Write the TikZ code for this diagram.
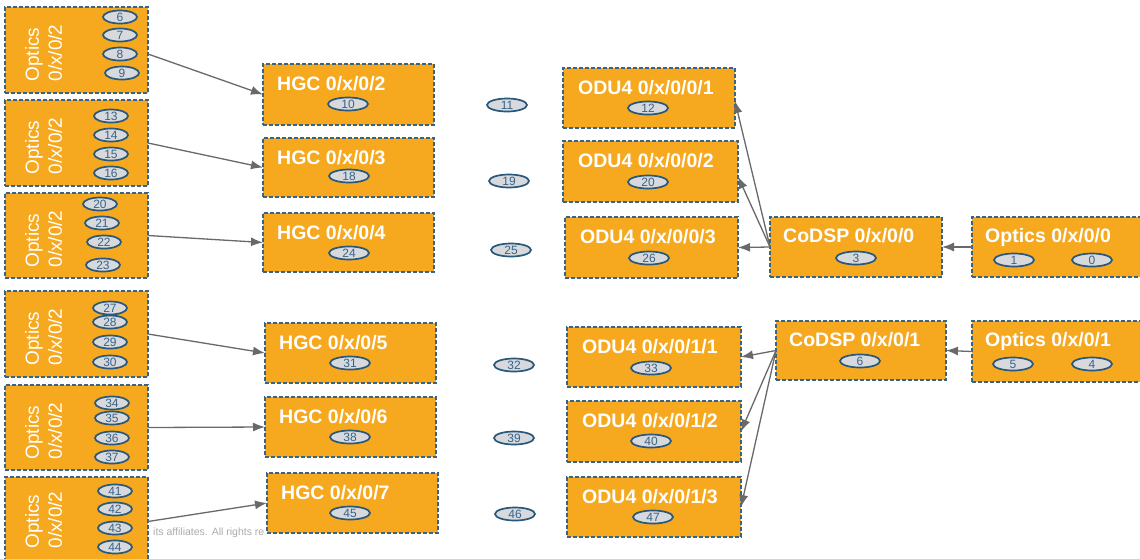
\documentclass[tikz,border=0pt]{standalone}
\usepackage{fontspec}
\setmainfont{Liberation Sans}
\usetikzlibrary{shapes.geometric,arrows.meta}

\definecolor{boxfill}{RGB}{246,168,30}
\definecolor{boxline}{RGB}{55,100,135}
\definecolor{portfill}{RGB}{215,217,220}
\definecolor{portline}{RGB}{40,88,124}
\definecolor{porttext}{RGB}{55,100,138}
\definecolor{linkgray}{RGB}{105,105,105}

\tikzset{
  blk/.style={rectangle, draw=boxline, fill=boxfill, line width=1.2pt,
    dash pattern=on 4pt off 2pt, inner sep=0pt, outer sep=0pt},
  ttl/.style={text=white, inner sep=0pt, anchor=base west,
    font=\fontsize{19.5}{23}\selectfont\bfseries},
  vlabel/.style={text=white, inner sep=0pt, rotate=90, align=left,
    font=\fontsize{19}{23}\selectfont},
  port/.style={ellipse, draw=portline, fill=portfill, line width=1.7pt,
    minimum width=40pt, minimum height=13pt, inner sep=0pt, text=porttext,
    font=\fontsize{12}{12}\selectfont},
  sport/.style={port, minimum width=34pt},
  link/.style={draw=linkgray, line width=1.3pt, -{Latex[length=12pt,width=9pt]}},
  note/.style={text=gray!65, inner sep=0pt, anchor=base west,
    font=\fontsize{10.5}{12}\selectfont}
}

% block: name, left, top, right, bottom (pixel-style coordinates, y downwards)
\newcommand\blk[5]{%
  \node[blk, minimum width={(#4-#2)*1pt}, minimum height={(#5-#3)*1pt}]
    (#1) at ({(#2+#4)/2},{(#3+#5)/2}) {};}

\begin{document}
\begin{tikzpicture}[x=1pt, y=-1pt]
\clip (0,0) rectangle (1140,558);
\fill[white] (0,0) rectangle (1140,558);

% footer fragment left over on the slide
\node[note] (foot) at (153,535) {its affiliates. All rights re};

% ---- left column: optics 0/x/0/2 ----
\blk{oa}{5}{7}{148}{93}
\blk{ob}{5}{100}{148}{186}
\blk{oc}{5}{193}{148}{278}
\blk{od}{5}{291}{148}{377}
\blk{oe}{5}{385}{148}{470}
\blk{of}{5}{477}{148}{566}
\foreach \n/\y in {oa/53, ob/146, oc/239, od/337, oe/431, of/520}
  \node[vlabel] (\n-lbl) at (43.5,\y) {Optics\\0/x/0/2};

\node[sport] (pa6) at (120,17) {6};
\node[sport] (pa7) at (120,35) {7};
\node[sport] (pa8) at (120,54) {8};
\node[sport] (pa9) at (122,73) {9};
\node[sport] (pb13) at (111,116) {13};
\node[sport] (pb14) at (111,135) {14};
\node[sport] (pb15) at (111,154) {15};
\node[sport] (pb16) at (111,173) {16};
\node[sport] (pc20) at (100,204) {20};
\node[sport] (pc21) at (102,223) {21};
\node[sport] (pc22) at (104,242) {22};
\node[sport] (pc23) at (103,265) {23};
\node[sport] (pd27) at (110,308) {27};
\node[sport] (pd28) at (110,322) {28};
\node[sport] (pd29) at (110,342) {29};
\node[sport] (pd30) at (110,362) {30};
\node[sport] (pe34) at (112,403) {34};
\node[sport] (pe35) at (112,418) {35};
\node[sport] (pe36) at (112,438) {36};
\node[sport] (pe37) at (112,457) {37};
\node[sport] (pf41) at (115,491) {41};
\node[sport] (pf42) at (115,509) {42};
\node[sport] (pf43) at (115,528) {43};
\node[sport] (pf44) at (115,547) {44};

% ---- HGC column ----
\blk{h2}{263}{64}{434}{125}
\blk{h3}{263}{138}{434}{197}
\blk{h4}{263}{213}{434}{272}
\blk{h5}{265}{323}{436}{383}
\blk{h6}{265}{397}{436}{457}
\blk{h7}{267}{473}{438}{533}
\node[ttl] (h2-t) at (277,90) {HGC 0/x/0/2};
\node[ttl] (h3-t) at (277,164) {HGC 0/x/0/3};
\node[ttl] (h4-t) at (277,239) {HGC 0/x/0/4};
\node[ttl] (h5-t) at (279,349) {HGC 0/x/0/5};
\node[ttl] (h6-t) at (279,423) {HGC 0/x/0/6};
\node[ttl] (h7-t) at (281,499) {HGC 0/x/0/7};
\node[port] (ph10) at (348,104) {10};
\node[port] (ph18) at (349,176) {18};
\node[port] (ph24) at (349,253) {24};
\node[port] (ph31) at (350,363) {31};
\node[port] (ph38) at (350,437) {38};
\node[port] (ph45) at (350,513) {45};

% ---- free ports between HGC and ODU4 ----
\node[port] (pm11) at (507,105) {11};
\node[port] (pm19) at (509,181) {19};
\node[port] (pm25) at (511,250) {25};
\node[port] (pm32) at (514,365) {32};
\node[port] (pm39) at (514,438) {39};
\node[port] (pm46) at (515,514) {46};

% ---- ODU4 column ----
\blk{u1}{563}{68}{735}{128}
\blk{u2}{563}{141}{738}{202}
\blk{u3}{565}{217}{738}{278}
\blk{u4}{567}{327}{741}{387}
\blk{u5}{567}{401}{741}{462}
\blk{u6}{567}{477}{741}{537}
\node[ttl] (u1-t) at (578,94) {ODU4 0/x/0/0/1};
\node[ttl] (u2-t) at (578,167) {ODU4 0/x/0/0/2};
\node[ttl] (u3-t) at (580,243) {ODU4 0/x/0/0/3};
\node[ttl] (u4-t) at (582,353) {ODU4 0/x/0/1/1};
\node[ttl] (u5-t) at (582,427) {ODU4 0/x/0/1/2};
\node[ttl] (u6-t) at (582,503) {ODU4 0/x/0/1/3};
\node[port] (pu12) at (648,108) {12};
\node[port] (pu20) at (648,182) {20};
\node[port] (pu26) at (649,258) {26};
\node[port] (pu33) at (651,368) {33};
\node[port] (pu40) at (651,441) {40};
\node[port] (pu47) at (653,517) {47};

% ---- CoDSP ----
\blk{c0}{770}{217}{942}{277}
\blk{c1}{776}{321}{946}{380}
\node[ttl] (c0-t) at (783,242) {CoDSP 0/x/0/0};
\node[ttl] (c1-t) at (789,346) {CoDSP 0/x/0/1};
\node[port] (pc3) at (856,258) {3};
\node[port] (pc6) at (860,361) {6};

% ---- right optics ----
\blk{r0}{972}{217}{1150}{277}
\blk{r1}{972}{321}{1150}{382}
\node[ttl] (r0-t) at (985,242) {Optics 0/x/0/0};
\node[ttl] (r1-t) at (985,346) {Optics 0/x/0/1};
\node[port] (pr1) at (1014,260) {1};
\node[port] (pr0) at (1092,260) {0};
\node[port] (pr5) at (1013,364) {5};
\node[port] (pr4) at (1092,364) {4};

% ---- connectors ----
\draw[link] ([yshift=-4pt]oa.east) -- (h2.west);
\draw[link] (ob.east) -- (h3.west);
\draw[link] (oc.east) -- (h4.west);
\draw[link] (od.east) -- (h5.west);
\draw[link] (oe.east) -- (h6.west);
\draw[link] (of.east) -- (h7.west);

\draw[link] (c0.west) -- ([yshift=-3pt]u1.east);
\draw[link] (c0.west) -- ([yshift=-5pt]u2.east);
\draw[link] (c0.west) -- (u3.east);
\draw[link] (c1.west) -- (u4.east);
\draw[link] (c1.west) -- (u5.east);
\draw[link] (c1.west) -- (u6.east);

\draw[link] (r0.west) -- (c0.east);
\draw[link] (r1.west) -- (c1.east);
\end{tikzpicture}
\end{document}
